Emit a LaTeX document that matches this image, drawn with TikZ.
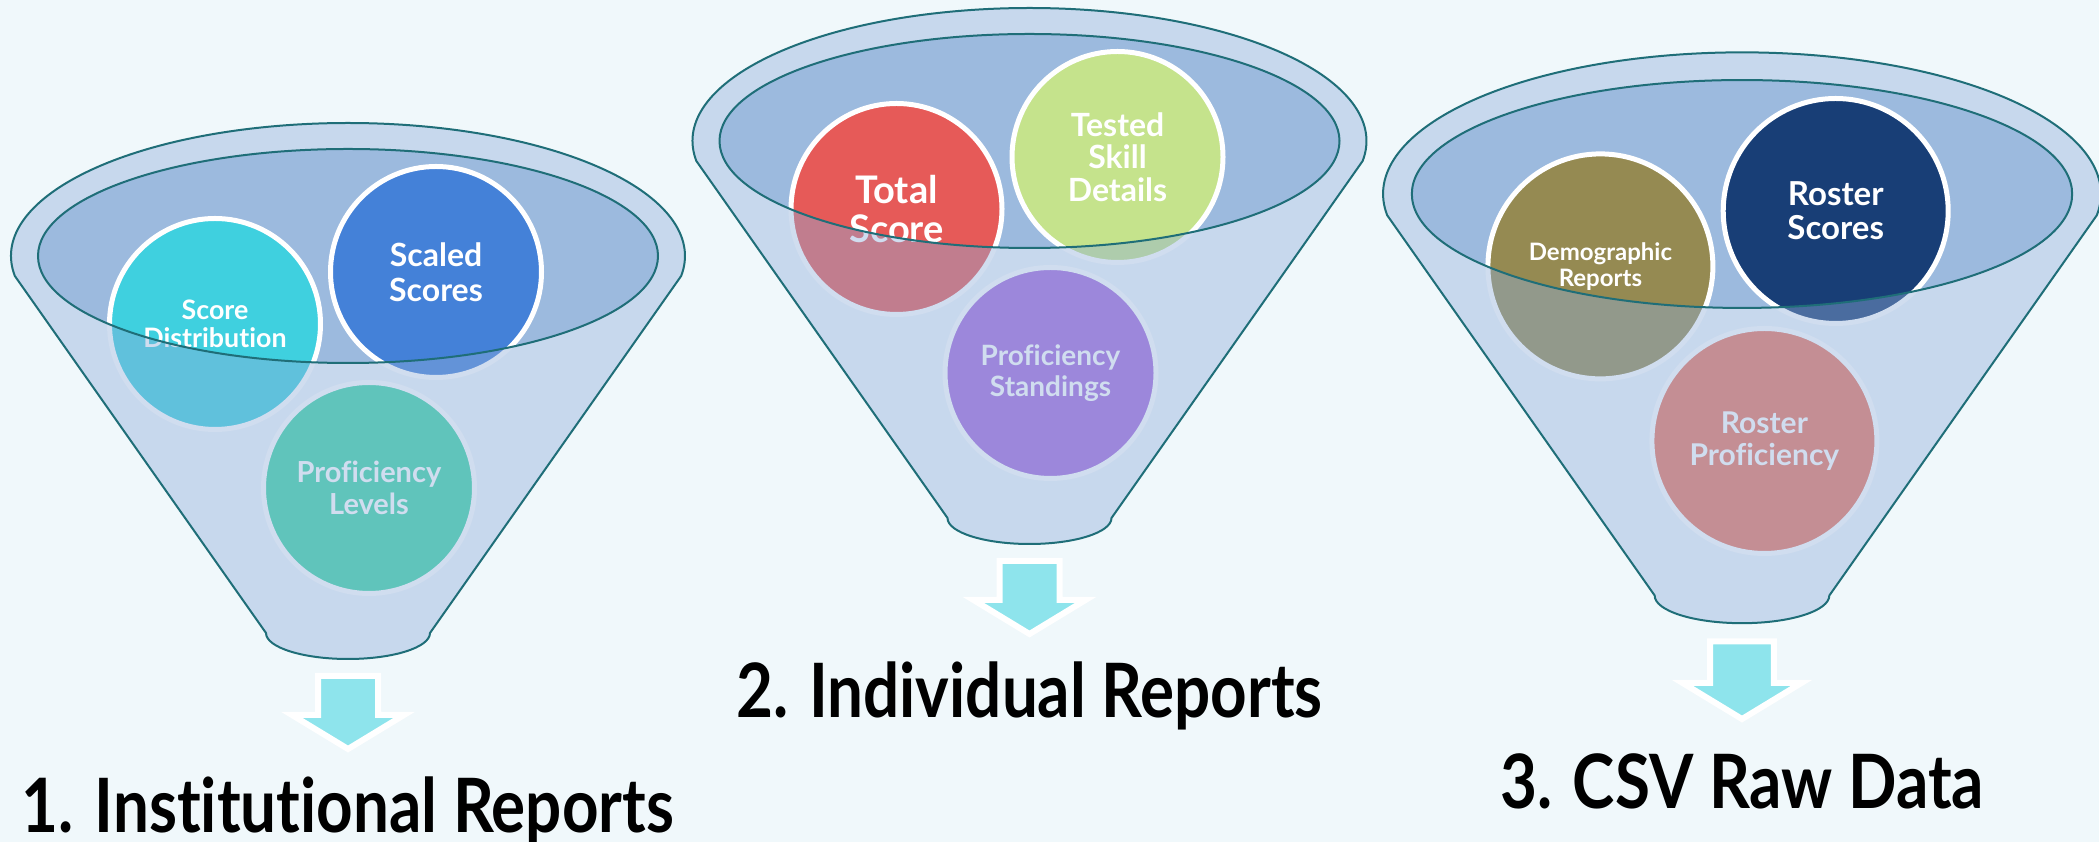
\documentclass[tikz,border=0pt]{standalone}
\usepackage{fontspec}
\setmainfont{Lato}[Ligatures=NoCommon]
\newfontfamily\headfont{Lato}[Ligatures=NoCommon,FakeStretch=0.85]
\definecolor{pagebg}{HTML}{F0F8FB}
\definecolor{mouthblue}{HTML}{9CBADE}
\definecolor{wallblue}{HTML}{90AEDA}
\definecolor{rimline}{HTML}{1F6E78}
\definecolor{chutecyan}{HTML}{8EE4EC}
\definecolor{cdist}{HTML}{3FD0DF}
\definecolor{cscaled}{HTML}{4481D8}
\definecolor{clevels}{HTML}{3FD5A5}
\definecolor{ctotal}{HTML}{E65A58}
\definecolor{cskill}{HTML}{C5E38C}
\definecolor{cstand}{HTML}{A56CDC}
\definecolor{cdemo}{HTML}{958A52}
\definecolor{croster}{HTML}{183E76}
\definecolor{cprof}{HTML}{EA7862}

\newcommand\funnelbody{(188.65:337 and 133) arc[start angle=188.65, end angle=-8.65, x radius=337, y radius=133]
  -- (82,-377) arc[start angle=0, end angle=-180, x radius=82, y radius=26] -- cycle}
\newcommand\funnelmouth{(0,0) ellipse[x radius=310, y radius=107]}

\begin{document}
\begin{tikzpicture}
  [x=1pt,y=1pt,
   ball/.style={circle,draw=white,line width=5,inner sep=0,minimum size=#1,text=white,align=center},
   ball/.default=211,
   wall/.style={fill=wallblue,fill opacity=.42,even odd rule},
   rim/.style={draw=rimline,line width=2},
   chute/.style={fill=chutecyan,draw=white,line width=6,line join=miter},
   heading/.style={anchor=base,font=\headfont\fontsize{75}{80}\selectfont\bfseries}]
  \useasboundingbox (0,0) rectangle (2099,842);
  \fill[pagebg] (0,0) rectangle (2099,842);

  \foreach \x/\y/\s in {348/586/1, 1029.5/701/1, 1742/648/1.065}
    \fill[mouthblue,shift={(\x,\y)},scale=\s] \funnelmouth;

  \node[ball,fill=cdist,font=\fontsize{26.8}{28}\selectfont\bfseries] (dist) at (215,518) {Score\\Distribution};
  \node[ball,fill=cscaled,font=\fontsize{32}{35}\selectfont\bfseries] (scaled) at (436,570) {Scaled\\Scores};
  \node[ball,fill=clevels,font=\fontsize{29}{31.5}\selectfont\bfseries] (levels) at (369,354) {Proficiency\\Levels};

  \node[ball,fill=ctotal,font=\fontsize{38}{39}\selectfont\bfseries] (total) at (896.5,633) {Total\\Score};
  \node[ball,fill=cskill,font=\fontsize{32}{32.5}\selectfont\bfseries] (skill) at (1117.5,685) {Tested\\Skill\\Details};
  \node[ball,fill=cstand,font=\fontsize{28}{30.5}\selectfont\bfseries] (stand) at (1050.5,469) {Proficiency\\Standings};

  \node[ball=225,fill=cdemo,font=\fontsize{24}{26}\selectfont\bfseries] (demo) at (1600.4,575.6) {Demographic\\Reports};
  \node[ball=225,fill=croster,font=\fontsize{33}{34}\selectfont\bfseries] (roster) at (1835.7,631) {Roster\\Scores};
  \node[ball=225,fill=cprof,font=\fontsize{30}{31.5}\selectfont\bfseries] (rprof) at (1764.4,401) {Roster\\Proficiency};

  \foreach \x/\y/\s in {348/586/1, 1029.5/701/1, 1742/648/1.065} {
    \begin{scope}[shift={(\x,\y)},scale=\s]
      \fill[wall] \funnelbody \funnelmouth;
      \draw[rim] \funnelbody \funnelmouth;
      \draw[chute] (-30,-420) -- (30,-420) -- (30,-459) -- (56,-459) -- (0,-493)
        -- (-56,-459) -- (-30,-459) -- cycle;
    \end{scope}
  }

  \node[heading] (inst) at (348,9) {1. Institutional Reports};
  \node[heading] (indiv) at (1029.5,124) {2. Individual Reports};
  \node[heading] (csv) at (1742,33.5) {3. CSV Raw Data};
\end{tikzpicture}
\end{document}
